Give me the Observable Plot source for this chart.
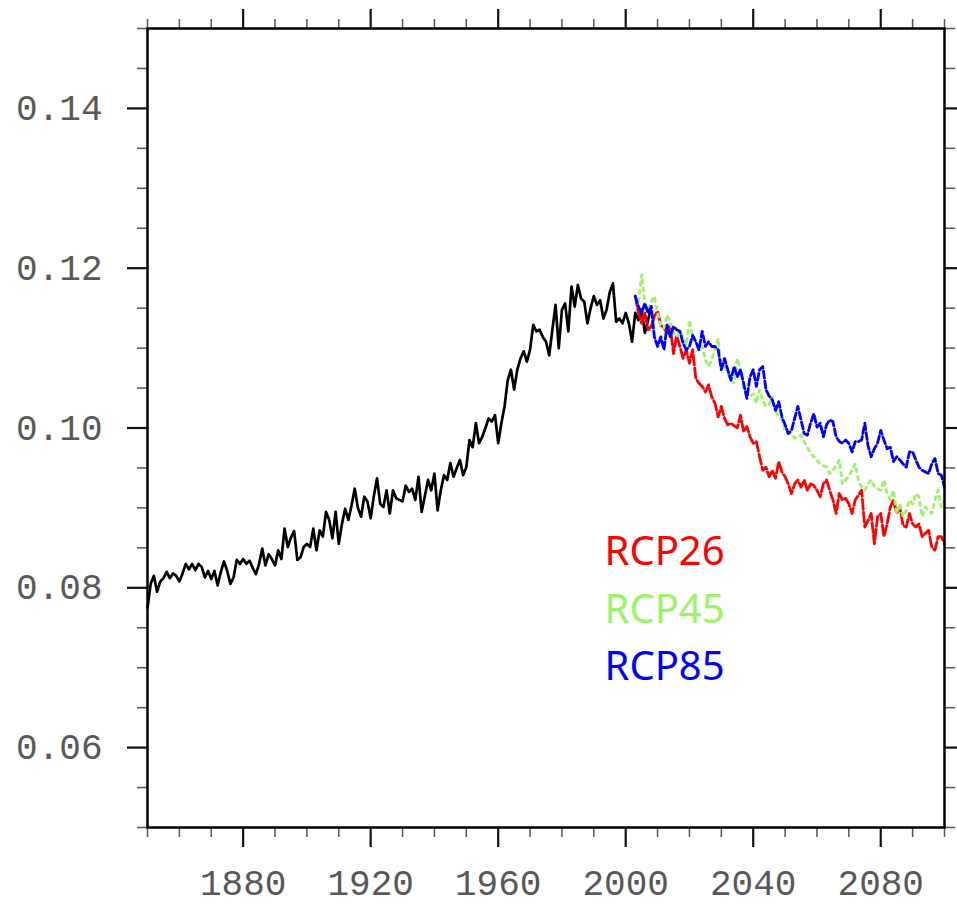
<!DOCTYPE html>
<html><head><meta charset="utf-8">
<script src="https://cdn.jsdelivr.net/npm/d3@7"></script>
<script src="https://cdn.jsdelivr.net/npm/@observablehq/plot@0.6"></script>
<style>
html,body{margin:0;padding:0;background:#fff;overflow:hidden}
#chart{width:957px;height:907px}
</style>
</head><body><div id="chart"></div>
<script>
// ---------- data ----------
const histStart = 1850;
const historical = [
 .0775,.0805,.0815,.0795,.0808,.0812,.0820,.0812,.0818,.0815,
 .0808,.0818,.0830,.0823,.0830,.0822,.0830,.0826,.0813,.0821,
 .0811,.0821,.0803,.0820,.0833,.0821,.0805,.0813,.0835,.0830,
 .0836,.0830,.0834,.0825,.0817,.0830,.0849,.0828,.0842,.0836,
 .0828,.0847,.0836,.0874,.0851,.0863,.0871,.0835,.0838,.0851,
 .0855,.0851,.0874,.0847,.0872,.0864,.0895,.0885,.0862,.0895,
 .0855,.0880,.0899,.0885,.0903,.0924,.0900,.0889,.0914,.0908,
 .0887,.0915,.0937,.0905,.0901,.0922,.0893,.0922,.0912,.0910,
 .0908,.0928,.0920,.0924,.0910,.0939,.0895,.0915,.0935,.0922,
 .0943,.0897,.0922,.0941,.0935,.0956,.0939,.0950,.0960,.0941,
 .0951,.0985,.0976,.1006,.0981,.0989,.1000,.1012,.1008,.1016,
 .0981,.1006,.1027,.1060,.1073,.1048,.1073,.1087,.1096,.1083,
 .1098,.1129,.1121,.1123,.1114,.1108,.1091,.1123,.1154,.1100,
 .1148,.1156,.1121,.1177,.1152,.1179,.1162,.1158,.1131,.1150,
 .1165,.1154,.1160,.1137,.1148,.1170,.1181,.1133,.1137,.1131,
 .1144,.1131,.1108,.1144,.1135,.1148,.1119,.1135,.1152
];
const rcpStart = 2003;
const rcp26 = [
 .1165,.1144,.1131,.1144,.1123,.1127,.1140,
 .1146,.1129,.1125,.1119,.1127,.1093,.1116,.1102,.1087,.1098,
 .1081,.1098,.1062,.1056,.1052,.1045,.1054,.1039,.1031,.1014,
 .1027,.1012,.1004,.1006,.1003,.1000,.1016,.0995,.1002,.0989,
 .0981,.0983,.0964,.0947,.0951,.0939,.0947,.0937,.0958,.0945,
 .0939,.0930,.0918,.0930,.0935,.0926,.0935,.0922,.0930,.0928,
 .0922,.0914,.0930,.0935,.0922,.0910,.0893,.0918,.0910,.0912,
 .0905,.0893,.0910,.0916,.0922,.0876,.0884,.0893,.0855,.0889,
 .0893,.0864,.0880,.0901,.0910,.0893,.0901,.0878,.0876,.0893,
 .0880,.0876,.0880,.0864,.0868,.0872,.0851,.0847,.0864,.0864,.0855
];
const rcp45 = [
 .1162,.1156,.1192,.1156,.1148,.1158,.1165,
 .1144,.1127,.1125,.1142,.1131,.1119,.1114,.1121,.1114,.1104,
 .1135,.1114,.1106,.1098,.1102,.1085,.1077,.1085,.1100,.1112,
 .1073,.1077,.1068,.1060,.1056,.1087,.1073,.1048,.1043,.1039,
 .1043,.1031,.1048,.1035,.1027,.1030,.1039,.1022,.1014,.1010,
 .0997,.0993,.0993,.0987,.0989,.0991,.0983,.0976,.0968,.0964,
 .0960,.0955,.0953,.0951,.0943,.0947,.0953,.0960,.0930,.0935,
 .0940,.0947,.0955,.0935,.0926,.0922,.0930,.0935,.0926,.0924,
 .0922,.0935,.0918,.0910,.0922,.0893,.0905,.0889,.0897,.0910,
 .0905,.0918,.0914,.0889,.0901,.0897,.0893,.0910,.0922,.0901,.0910
];
const rcp85 = [
 .1165,.1152,.1144,.1156,.1144,.1152,.1114,
 .1102,.1114,.1098,.1129,.1114,.1127,.1123,.1121,.1106,.1098,
 .1102,.1116,.1108,.1098,.1121,.1102,.1108,.1102,.1102,.1098,
 .1073,.1087,.1073,.1060,.1077,.1064,.1073,.1056,.1037,.1064,
 .1073,.1052,.1073,.1077,.1048,.1040,.1035,.1022,.1033,.1014,
 .1004,.0993,.0997,.1012,.1027,.1010,.0993,.0991,.1006,.1018,
 .1001,.1006,.0989,.1004,.1010,.1008,.0989,.0983,.0981,.0985,
 .0981,.0970,.0983,.0983,.0985,.1006,.0978,.0964,.0974,.0981,
 .0997,.0985,.0974,.0976,.0958,.0964,.0960,.0955,.0951,.0970,
 .0970,.0960,.0951,.0947,.0945,.0943,.0955,.0962,.0943,.0941,.0926
];
const seriesNames = ["RCP26", "RCP45", "RCP85"];
const seriesValues = [rcp26, rcp45, rcp85];
const seriesColors = ["#ff0000", "#99f566", "#0000ff"];
const seriesDash = ["10,3", "3,5", "7,3"];
const xMajorTicks = [1880, 1920, 1960, 2000, 2040, 2080];
const xMinorTicks = [1850,1860,1870,1890,1900,1910,1930,1940,1950,1970,1980,1990,2010,2020,2030,2050,2060,2070,2090,2100];
const yMajorTicks = [0.06, 0.08, 0.10, 0.12, 0.14];
const yMinorTicks = [0.05,0.055,0.065,0.07,0.075,0.085,0.09,0.095,0.105,0.11,0.115,0.125,0.13,0.135,0.145,0.15];

// ---------- tables ----------
const histRows = historical.map((v, i) => ({year: histStart + i, value: v}));
const rcpRows = seriesValues.map(arr => arr.map((v, i) => ({year: rcpStart + i, value: v})));

const tickFont = "'Liberation Mono', 'DejaVu Sans Mono', monospace";
const noText = () => "";

const marks = [];
// minor and major ticks on four sides
for (const anchor of ["bottom", "top"]) {
  marks.push(Plot.axisX(xMinorTicks, {anchor, tickSize: 10, tickFormat: noText, color: "#555", strokeWidth: 1.5, label: null}));
  marks.push(Plot.axisX(xMajorTicks, {anchor, tickSize: 20, tickFormat: noText, color: "#111", strokeWidth: 2.2, label: null}));
}
for (const anchor of ["left", "right"]) {
  marks.push(Plot.axisY(yMinorTicks, {anchor, tickSize: 10, tickFormat: noText, color: "#555", strokeWidth: 1.5, label: null}));
  marks.push(Plot.axisY(yMajorTicks, {anchor, tickSize: 20, tickFormat: noText, color: "#111", strokeWidth: 2.2, label: null}));
}
// tick labels
marks.push(Plot.axisX(xMajorTicks, {anchor: "bottom", tickSize: 0, tickPadding: 42, tickFormat: d => String(d),
  color: "#585858", fontSize: 36, fontFamily: tickFont, label: null}));
marks.push(Plot.axisY(yMajorTicks, {anchor: "left", tickSize: 0, tickPadding: 45, tickFormat: d => d.toFixed(2),
  color: "#585858", fontSize: 36, fontFamily: tickFont, label: null}));

// data lines
marks.push(Plot.line(histRows, {x: "year", y: "value", stroke: "black", strokeWidth: 2.7, strokeLinejoin: "round"}));
seriesNames.forEach((name, k) => {
  marks.push(Plot.line(rcpRows[k], {x: "year", y: "value", stroke: seriesColors[k], strokeWidth: 2.8,
    strokeDasharray: seriesDash[k], strokeLinejoin: "round"}));
});
// legend text inside plot
seriesNames.forEach((name, k) => {
  marks.push(Plot.text([name], {text: d => d, frameAnchor: "top-left", dx: 457, dy: 524 + k * 57.5,
    textAnchor: "start", lineAnchor: "middle", fill: seriesColors[k], fontSize: 40,
    fontFamily: "'Noto Sans', 'Open Sans', sans-serif"}));
});
marks.push(Plot.frame({stroke: "black", strokeWidth: 2.5}));

const chart = Plot.plot({
  width: 957, height: 907,
  marginLeft: 147, marginRight: 13, marginTop: 28, marginBottom: 80,
  x: {domain: [1850, 2100]},
  y: {domain: [0.05, 0.15]},
  style: {background: "white", overflow: "visible"},
  marks
});
document.getElementById("chart").appendChild(chart);
</script>
</body></html>
